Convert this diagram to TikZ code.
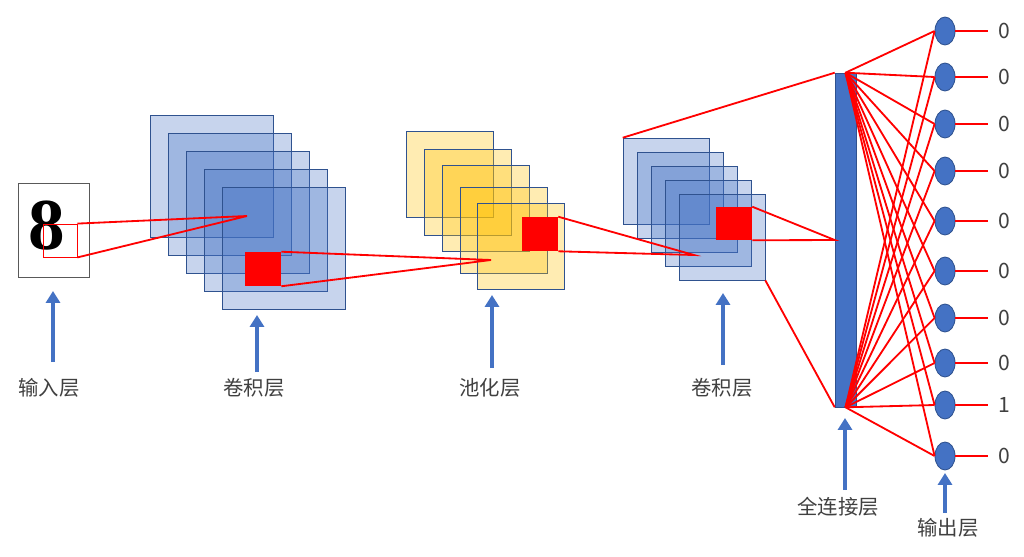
\documentclass[tikz,border=0pt]{standalone}
\usepackage{fontspec}
\newfontfamily\cjk{Noto Sans CJK SC}
\newfontfamily\eightfont{Liberation Serif}
\usetikzlibrary{arrows.meta, positioning, shapes.geometric}

\definecolor{accblue}{HTML}{4472C4}
\definecolor{edgeblue}{HTML}{2F528F}
\definecolor{accgold}{HTML}{FFC000}
\definecolor{labgray}{HTML}{404040}

\begin{document}
\begin{tikzpicture}[
  x=0.25mm, y=-0.25mm,
  font=\cjk,
  bigmap/.style = {draw=edgeblue, fill=accblue, fill opacity=0.3,
                   minimum width=30.75mm, minimum height=30.5mm, inner sep=0},
  poolmap/.style = {draw=edgeblue, fill=accgold, fill opacity=0.3,
                    minimum width=21.75mm, minimum height=21.5mm, inner sep=0},
  smallmap/.style = {draw=edgeblue, fill=accblue, fill opacity=0.3,
                     minimum width=21.5mm, minimum height=21.5mm, inner sep=0},
  hotspot/.style = {fill=red, minimum width=9mm, minimum height=8.5mm, inner sep=0},
  outnode/.style = {ellipse, draw=edgeblue, fill=accblue, semithick,
                    minimum width=5mm, minimum height=7mm, inner sep=0},
  caption/.style = {text=labgray, font=\cjk\fontsize{14.5}{16}\selectfont},
  value/.style = {text=labgray, font=\cjk\fontsize{15}{16}\selectfont,
                  minimum width=2.5mm, inner sep=0},
  redline/.style = {draw=red, line width=1.3pt},
  valline/.style = {draw=red, line width=1.3pt, shorten >=2.5mm},
  bluearrow/.style = {-{Triangle[width=10pt, length=8.5pt]}, draw=accblue,
                      fill=accblue, line width=2.8pt}
]
\useasboundingbox (0,0) rectangle (1024,556);

% Input image
\node[draw=black!65, minimum width=17.75mm, minimum height=23.5mm, inner sep=0] (input) at (53.5,230) {};
\node[font=\eightfont\bfseries\fontsize{52}{52}\selectfont, inner sep=0] (digit) at (47,226) {8};
\node[draw=red, line width=0.6pt, minimum width=8.5mm, minimum height=8.25mm, inner sep=0] (in_win) at (60,240.5) {};

% First convolution layer
\node[bigmap] (conv1_a) at (212,176) {};
\node[bigmap] (conv1_b) at (230,194) {};
\node[bigmap] (conv1_c) at (248,212) {};
\node[bigmap] (conv1_d) at (266,230) {};
\node[bigmap] (conv1_e) at (284,248) {};
\node[hotspot] (conv1_hot) at (263,269) {};
\coordinate (conv1_focus) at (247,216);

% Pooling layer
\node[poolmap] (pool_a) at (449.5,174) {};
\node[poolmap] (pool_b) at (467.5,192) {};
\node[poolmap] (pool_c) at (485.5,208) {};
\node[poolmap] (pool_d) at (503.5,230) {};
\node[poolmap] (pool_e) at (520.5,246) {};
\node[hotspot] (pool_hot) at (540,234) {};
\coordinate (pool_focus) at (491,260);

% Second convolution layer
\node[smallmap] (conv2_a) at (666,181) {};
\node[smallmap] (conv2_b) at (680,195) {};
\node[smallmap] (conv2_c) at (694,209) {};
\node[smallmap] (conv2_d) at (708,223) {};
\node[smallmap] (conv2_e) at (722,237) {};
\node[hotspot, minimum height=8.25mm] (conv2_hot) at (734,223.5) {};
\coordinate (conv2_focus) at (694,255);

% Fully connected layer
\node[draw=edgeblue, fill=accblue, minimum width=5.25mm, minimum height=83.5mm, inner sep=0] (fc) at (845.5,240) {};

% Output nodes
\node[outnode] (out1) at (945,31) {};
\node[outnode] (out2) at (945,77) {};
\node[outnode] (out3) at (945,124) {};
\node[outnode] (out4) at (945,171) {};
\node[outnode] (out5) at (945,221) {};
\node[outnode] (out6) at (945,271) {};
\node[outnode] (out7) at (945,318) {};
\node[outnode] (out8) at (945,363) {};
\node[outnode] (out9) at (945,405) {};
\node[outnode] (out10) at (945,456) {};

% Output values
\node[value] (val1) at (1004,31) {0};
\node[value] (val2) at (1004,77) {0};
\node[value] (val3) at (1004,124) {0};
\node[value] (val4) at (1004,171) {0};
\node[value] (val5) at (1004,221) {0};
\node[value] (val6) at (1004,271) {0};
\node[value] (val7) at (1004,318) {0};
\node[value] (val8) at (1004,363) {0};
\node[value] (val9) at (1004,405) {1};
\node[value] (val10) at (1004,456) {0};

% Receptive field lines
\draw[redline] (in_win.north east) -- (conv1_focus) -- (in_win.south east);
\draw[redline] (conv1_hot.north east) -- (pool_focus) -- (conv1_hot.south east);
\draw[redline] (pool_hot.north east) -- (conv2_focus) -- (pool_hot.south east);
\draw[redline] (conv2_hot.north east) -- (fc.west) -- (conv2_hot.south east);
\draw[redline] (conv2_a.north west) -- (fc.north west);
\draw[redline] (conv2_e.south east) -- (fc.south west);

% Full connections from the top of fc
\draw[redline] (fc.north) -- (out1.west);
\draw[redline] (fc.north) -- (out2.west);
\draw[redline] (fc.north) -- (out3.west);
\draw[redline] (fc.north) -- (out4.west);
\draw[redline] (fc.north) -- (out5.west);
\draw[redline] (fc.north) -- (out6.west);
\draw[redline] (fc.north) -- (out7.west);
\draw[redline] (fc.north) -- (out8.west);
\draw[redline] (fc.north) -- (out9.west);
\draw[redline] (fc.north) -- (out10.west);

% Full connections from the bottom of fc
\draw[redline] (fc.south) -- (out1.west);
\draw[redline] (fc.south) -- (out2.west);
\draw[redline] (fc.south) -- (out3.west);
\draw[redline] (fc.south) -- (out4.west);
\draw[redline] (fc.south) -- (out5.west);
\draw[redline] (fc.south) -- (out6.west);
\draw[redline] (fc.south) -- (out7.west);
\draw[redline] (fc.south) -- (out8.west);
\draw[redline] (fc.south) -- (out9.west);
\draw[redline] (fc.south) -- (out10.west);

% Output lines to values
\draw[valline] (out1.east) -- (val1.west);
\draw[valline] (out2.east) -- (val2.west);
\draw[valline] (out3.east) -- (val3.west);
\draw[valline] (out4.east) -- (val4.west);
\draw[valline] (out5.east) -- (val5.west);
\draw[valline] (out6.east) -- (val6.west);
\draw[valline] (out7.east) -- (val7.west);
\draw[valline] (out8.east) -- (val8.west);
\draw[valline] (out9.east) -- (val9.west);
\draw[valline] (out10.east) -- (val10.west);

% Layer captions
\node[caption] (lab_in) at (49,388) {输入层};
\node[caption] (lab_conv1) at (254,388) {卷积层};
\node[caption] (lab_pool) at (490,388) {池化层};
\node[caption] (lab_conv2) at (722,388) {卷积层};
\node[caption] (lab_fc) at (838,507) {全连接层};
\node[caption] (lab_out) at (948,528) {输出层};

% Arrow ends
\coordinate (in_tail) at (53,362);      \coordinate (in_head) at (53,291);
\coordinate (conv1_tail) at (257,372);  \coordinate (conv1_head) at (257,315);
\coordinate (pool_tail) at (492,368);   \coordinate (pool_head) at (492,295);
\coordinate (conv2_tail) at (723,365);  \coordinate (conv2_head) at (723,293);
\coordinate (fc_tail) at (845,490);     \coordinate (fc_head) at (845,418);
\coordinate (out_tail) at (945,513);    \coordinate (out_head) at (945,473);

% Arrows
\draw[bluearrow] (in_tail) -- (in_head);
\draw[bluearrow] (conv1_tail) -- (conv1_head);
\draw[bluearrow] (pool_tail) -- (pool_head);
\draw[bluearrow] (conv2_tail) -- (conv2_head);
\draw[bluearrow] (fc_tail) -- (fc_head);
\draw[bluearrow] (out_tail) -- (out_head);

\end{tikzpicture}
\end{document}
